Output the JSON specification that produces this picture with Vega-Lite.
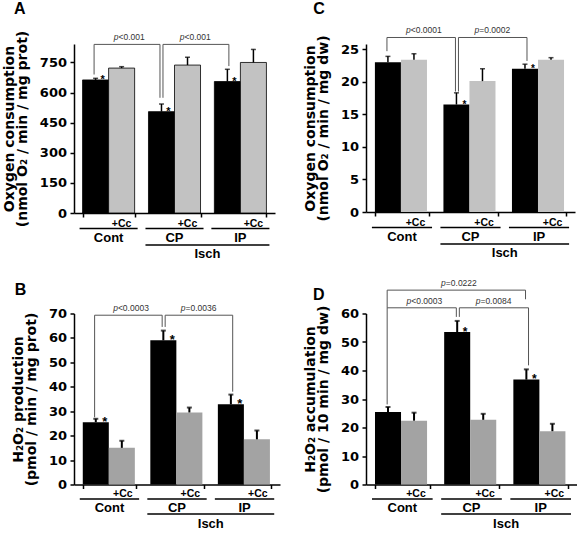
{
  "$schema": "https://vega.github.io/schema/vega-lite/v6.json",
  "autosize": {"type": "pad"},
  "padding": {"left": 2, "top": 0, "right": 0, "bottom": 0},
  "background": "white",
  "config": {
    "font": "Liberation Sans",
    "view": {"stroke": null},
    "axis": {"grid": false, "labelFont": "DejaVu Sans", "labelFontWeight": "bold", "labelFontSize": 13, "labelColor": "#000", "labelOverlap": false, "domainColor": "#000", "tickColor": "#000", "domainWidth": 1.5, "tickWidth": 1.5, "tickSize": 4, "labelPadding": 3.5, "titleFont": "DejaVu Sans", "titleFontWeight": "bold", "titleFontSize": 14, "titleColor": "#000", "titlePadding": 10, "titleLineHeight": 13}
  },
  "datasets": {
    "bars": [
      {"panel": "A", "group": "Cont", "treat": "ctrl", "value": 663, "hi": 671, "star": "*"},
      {"panel": "A", "group": "Cont", "treat": "+Cc", "value": 722, "hi": 729, "star": ""},
      {"panel": "A", "group": "CP", "treat": "ctrl", "value": 505, "hi": 543, "star": "*"},
      {"panel": "A", "group": "CP", "treat": "+Cc", "value": 737, "hi": 776, "star": ""},
      {"panel": "A", "group": "IP", "treat": "ctrl", "value": 655, "hi": 716, "star": "*"},
      {"panel": "A", "group": "IP", "treat": "+Cc", "value": 750, "hi": 815, "star": ""},
      {"panel": "C", "group": "Cont", "treat": "ctrl", "value": 23.0, "hi": 23.9, "star": ""},
      {"panel": "C", "group": "Cont", "treat": "+Cc", "value": 23.4, "hi": 24.3, "star": ""},
      {"panel": "C", "group": "CP", "treat": "ctrl", "value": 16.5, "hi": 18.3, "star": "*"},
      {"panel": "C", "group": "CP", "treat": "+Cc", "value": 20.1, "hi": 22.0, "star": ""},
      {"panel": "C", "group": "IP", "treat": "ctrl", "value": 22.0, "hi": 22.7, "star": "*"},
      {"panel": "C", "group": "IP", "treat": "+Cc", "value": 23.4, "hi": 23.7, "star": ""},
      {"panel": "B", "group": "Cont", "treat": "ctrl", "value": 25.5, "hi": 26.9, "star": "*"},
      {"panel": "B", "group": "Cont", "treat": "+Cc", "value": 15.0, "hi": 17.9, "star": ""},
      {"panel": "B", "group": "CP", "treat": "ctrl", "value": 59.0, "hi": 63.0, "star": "*"},
      {"panel": "B", "group": "CP", "treat": "+Cc", "value": 29.5, "hi": 31.5, "star": ""},
      {"panel": "B", "group": "IP", "treat": "ctrl", "value": 32.8, "hi": 36.8, "star": "*"},
      {"panel": "B", "group": "IP", "treat": "+Cc", "value": 18.5, "hi": 22.1, "star": ""},
      {"panel": "D", "group": "Cont", "treat": "ctrl", "value": 25.4, "hi": 27.2, "star": ""},
      {"panel": "D", "group": "Cont", "treat": "+Cc", "value": 22.4, "hi": 25.2, "star": ""},
      {"panel": "D", "group": "CP", "treat": "ctrl", "value": 53.5, "hi": 57.4, "star": "*"},
      {"panel": "D", "group": "CP", "treat": "+Cc", "value": 22.7, "hi": 24.8, "star": ""},
      {"panel": "D", "group": "IP", "treat": "ctrl", "value": 36.8, "hi": 40.4, "star": "*"},
      {"panel": "D", "group": "IP", "treat": "+Cc", "value": 18.7, "hi": 21.3, "star": ""}
    ],
    "brk": [
      {"panel": "A", "side": "L", "group": "Cont", "y": 690, "k": 1},
      {"panel": "A", "side": "L", "group": "Cont", "y": 840, "k": 2},
      {"panel": "A", "side": "L", "group": "CP", "y": 840, "k": 3},
      {"panel": "A", "side": "L", "group": "CP", "y": 574, "k": 4},
      {"panel": "A", "side": "R", "group": "CP", "y": 574, "k": 1},
      {"panel": "A", "side": "R", "group": "CP", "y": 840, "k": 2},
      {"panel": "A", "side": "R", "group": "IP", "y": 840, "k": 3},
      {"panel": "A", "side": "R", "group": "IP", "y": 732, "k": 4},
      {"panel": "C", "side": "L", "group": "Cont", "y": 24.7, "k": 1},
      {"panel": "C", "side": "L", "group": "Cont", "y": 26.8, "k": 2},
      {"panel": "C", "side": "L", "group": "CP", "y": 26.8, "k": 3},
      {"panel": "C", "side": "L", "group": "CP", "y": 18.5, "k": 4},
      {"panel": "C", "side": "R", "group": "CP", "y": 18.5, "k": 1},
      {"panel": "C", "side": "R", "group": "CP", "y": 26.8, "k": 2},
      {"panel": "C", "side": "R", "group": "IP", "y": 26.8, "k": 3},
      {"panel": "C", "side": "R", "group": "IP", "y": 23.2, "k": 4},
      {"panel": "B", "side": "L", "group": "Cont", "y": 27.5, "k": 1},
      {"panel": "B", "side": "L", "group": "Cont", "y": 69.3, "k": 2},
      {"panel": "B", "side": "L", "group": "CP", "y": 69.3, "k": 3},
      {"panel": "B", "side": "L", "group": "CP", "y": 64.5, "k": 4},
      {"panel": "B", "side": "R", "group": "CP", "y": 64.5, "k": 1},
      {"panel": "B", "side": "R", "group": "CP", "y": 69.3, "k": 2},
      {"panel": "B", "side": "R", "group": "IP", "y": 69.3, "k": 3},
      {"panel": "B", "side": "R", "group": "IP", "y": 38.0, "k": 4},
      {"panel": "D", "side": "L", "group": "Cont", "y": 28.1, "k": 1},
      {"panel": "D", "side": "L", "group": "Cont", "y": 62.0, "k": 2},
      {"panel": "D", "side": "L", "group": "CP", "y": 62.0, "k": 3},
      {"panel": "D", "side": "L", "group": "CP", "y": 58.8, "k": 4},
      {"panel": "D", "side": "R", "group": "CP", "y": 58.8, "k": 1},
      {"panel": "D", "side": "R", "group": "CP", "y": 62.0, "k": 2},
      {"panel": "D", "side": "R", "group": "IP", "y": 62.0, "k": 3},
      {"panel": "D", "side": "R", "group": "IP", "y": 41.8, "k": 4},
      {"panel": "D", "side": "O", "group": "Cont", "y": 62.0, "k": 1},
      {"panel": "D", "side": "O", "group": "Cont", "y": 68.2, "k": 2},
      {"panel": "D", "side": "O", "group": "IP", "y": 68.2, "k": 3},
      {"panel": "D", "side": "O", "group": "IP", "y": 65.0, "k": 4}
    ],
    "pv": [
      {"panel": "A", "side": "L", "group": "Cont", "y": 840, "rest": "<0.001"},
      {"panel": "A", "side": "R", "group": "CP", "y": 840, "rest": "<0.001"},
      {"panel": "C", "side": "L", "group": "Cont", "y": 26.8, "rest": "<0.0001"},
      {"panel": "C", "side": "R", "group": "CP", "y": 26.8, "rest": "=0.0002"},
      {"panel": "B", "side": "L", "group": "Cont", "y": 69.3, "rest": "<0.0003"},
      {"panel": "B", "side": "R", "group": "CP", "y": 69.3, "rest": "=0.0036"},
      {"panel": "D", "side": "L", "group": "Cont", "y": 62.0, "rest": "<0.0003"},
      {"panel": "D", "side": "R", "group": "CP", "y": 62.0, "rest": "=0.0084"},
      {"panel": "D", "side": "O", "group": "CP", "y": 68.2, "rest": "=0.0222"}
    ],
    "grp": [{"group": "Cont"}, {"group": "CP"}, {"group": "IP"}],
    "isch": [{"group": "CP", "group2": "IP", "label": "Isch"}]
  },
  "columns": 2,
  "spacing": {"row": 100.5, "column": 86},
  "bounds": "flush",
  "align": "each",
  "concat": [
    {
      "width": 201, "height": 169,
      "layer": [
        {"data": {"name": "bars"}, "transform": [{"filter": "datum.panel === 'A'"}],
         "mark": {"type": "bar", "stroke": "#000", "strokeWidth": 0.8},
         "encoding": {
           "x": {"field": "group", "type": "nominal", "scale": {"domain": ["Cont", "CP", "IP"], "paddingInner": 0.21, "paddingOuter": 0.13}, "axis": {"labels": false, "title": null, "tickBand": "extent"}},
           "xOffset": {"field": "treat", "type": "nominal", "scale": {"domain": ["ctrl", "+Cc"], "paddingInner": 0, "paddingOuter": 0}},
           "y": {"field": "value", "type": "quantitative", "scale": {"domain": [0, 842], "nice": false}, "axis": {"values": [0, 150, 300, 450, 600, 750], "tickCount": 20, "labelOverlap": false, "labelFlush": false, "title": ["Oxygen consumption", "(nmol O₂ / min / mg prot)"]}},
           "color": {"condition": {"test": "datum.treat === 'ctrl'", "value": "#000"}, "value": "#C2C2C2"}
         }},
        {"data": {"name": "bars"}, "transform": [{"filter": "datum.panel === 'A'"}],
         "mark": {"type": "rule", "color": "#000", "strokeWidth": 1.5},
         "encoding": {"x": {"field": "group", "type": "nominal"}, "xOffset": {"field": "treat", "type": "nominal"}, "y": {"field": "value", "type": "quantitative"}, "y2": {"field": "hi"}}},
        {"data": {"name": "bars"}, "transform": [{"filter": "datum.panel === 'A'"}],
         "mark": {"type": "tick", "color": "#000", "thickness": 1.5, "size": 5},
         "encoding": {"x": {"field": "group", "type": "nominal"}, "xOffset": {"field": "treat", "type": "nominal"}, "y": {"field": "hi", "type": "quantitative"}}},
        {"data": {"name": "bars"}, "transform": [{"filter": "datum.panel === 'A'"}],
         "mark": {"type": "text", "fontSize": 11, "fontWeight": "bold", "dx": 7, "dy": 3, "baseline": "alphabetic", "color": "#000"},
         "encoding": {"x": {"field": "group", "type": "nominal"}, "xOffset": {"field": "treat", "type": "nominal"}, "y": {"field": "value", "type": "quantitative"}, "text": {"field": "star"}}},
        {"data": {"name": "brk"}, "transform": [{"filter": "datum.panel === 'A' && datum.side === 'L'"}],
         "mark": {"type": "line", "color": "#555", "strokeWidth": 1, "xOffset": -1.5},
         "encoding": {"x": {"field": "group", "type": "nominal", "bandPosition": 0.25}, "y": {"field": "y", "type": "quantitative"}, "order": {"field": "k"}}},
        {"data": {"name": "brk"}, "transform": [{"filter": "datum.panel === 'A' && datum.side === 'R'"}],
         "mark": {"type": "line", "color": "#555", "strokeWidth": 1, "xOffset": 1.5},
         "encoding": {"x": {"field": "group", "type": "nominal", "bandPosition": 0.25}, "y": {"field": "y", "type": "quantitative"}, "order": {"field": "k"}}},
        {"data": {"name": "pv"}, "transform": [{"filter": "datum.panel === 'A'"}],
         "mark": {"type": "text", "fontSize": 8.5, "fontStyle": "italic", "align": "right", "baseline": "alphabetic", "dx": -10, "dy": -4, "color": "#333"},
         "encoding": {"x": {"field": "group", "type": "nominal", "bandPosition": 0.883}, "y": {"field": "y", "type": "quantitative"}, "text": {"value": "p"}}},
        {"data": {"name": "pv"}, "transform": [{"filter": "datum.panel === 'A'"}],
         "mark": {"type": "text", "fontSize": 8.5, "align": "left", "baseline": "alphabetic", "dx": -10, "dy": -4, "color": "#333"},
         "encoding": {"x": {"field": "group", "type": "nominal", "bandPosition": 0.883}, "y": {"field": "y", "type": "quantitative"}, "text": {"field": "rest"}}},
        {"data": {"name": "grp"},
         "mark": {"type": "rule", "color": "#000", "strokeWidth": 1.5, "yOffset": 15.5, "xOffset": -3, "x2Offset": 3},
         "encoding": {"x": {"field": "group", "type": "nominal", "bandPosition": 0}, "x2": {"field": "group", "bandPosition": 1}, "y": {"datum": 0, "type": "quantitative"}}},
        {"data": {"name": "grp"},
         "mark": {"type": "text", "fontSize": 10.5, "fontWeight": "bold", "baseline": "alphabetic", "dy": 14, "color": "#000"},
         "encoding": {"x": {"field": "group", "type": "nominal", "bandPosition": 0.75}, "y": {"datum": 0, "type": "quantitative"}, "text": {"value": "+Cc"}}},
        {"data": {"name": "grp"},
         "mark": {"type": "text", "fontSize": 13, "fontWeight": "bold", "baseline": "alphabetic", "dy": 29, "color": "#000"},
         "encoding": {"x": {"field": "group", "type": "nominal", "bandPosition": 0.5}, "y": {"datum": 0, "type": "quantitative"}, "text": {"field": "group"}}},
        {"data": {"name": "isch"},
         "mark": {"type": "rule", "color": "#000", "strokeWidth": 1.5, "yOffset": 32, "xOffset": -3, "x2Offset": 3},
         "encoding": {"x": {"field": "group", "type": "nominal", "bandPosition": 0}, "x2": {"field": "group2", "bandPosition": 1}, "y": {"datum": 0, "type": "quantitative"}}},
        {"data": {"name": "isch"},
         "mark": {"type": "text", "fontSize": 13, "fontWeight": "bold", "baseline": "alphabetic", "dy": 45, "color": "#000"},
         "encoding": {"x": {"field": "group", "type": "nominal", "bandPosition": 1.133}, "y": {"datum": 0, "type": "quantitative"}, "text": {"field": "label"}}},
        {"data": {"values": [{"letter": "A", "group": "Cont"}]},
         "mark": {"type": "text", "fontSize": 16, "fontWeight": "bold", "align": "left", "baseline": "alphabetic", "dx": -68.6, "dy": -30.5, "color": "#000"},
         "encoding": {"x": {"field": "group", "type": "nominal", "bandPosition": 0}, "y": {"datum": 842, "type": "quantitative"}, "text": {"field": "letter"}}}
      ]
    },
    {
      "width": 209, "height": 168,
      "layer": [
        {"data": {"name": "bars"}, "transform": [{"filter": "datum.panel === 'C'"}],
         "mark": {"type": "bar"},
         "encoding": {
           "x": {"field": "group", "type": "nominal", "scale": {"domain": ["Cont", "CP", "IP"], "paddingInner": 0.21, "paddingOuter": 0.13}, "axis": {"labels": false, "title": null, "tickBand": "extent"}},
           "xOffset": {"field": "treat", "type": "nominal", "scale": {"domain": ["ctrl", "+Cc"], "paddingInner": 0, "paddingOuter": 0}},
           "y": {"field": "value", "type": "quantitative", "scale": {"domain": [0, 25.8], "nice": false}, "axis": {"values": [0, 5, 10, 15, 20, 25], "tickCount": 20, "labelOverlap": false, "labelFlush": false, "title": ["Oxygen consumption", "(nmol O₂ / min / mg dw)"]}},
           "color": {"condition": {"test": "datum.treat === 'ctrl'", "value": "#000"}, "value": "#C2C2C2"}
         }},
        {"data": {"name": "bars"}, "transform": [{"filter": "datum.panel === 'C'"}],
         "mark": {"type": "rule", "color": "#000", "strokeWidth": 1.5},
         "encoding": {"x": {"field": "group", "type": "nominal"}, "xOffset": {"field": "treat", "type": "nominal"}, "y": {"field": "value", "type": "quantitative"}, "y2": {"field": "hi"}}},
        {"data": {"name": "bars"}, "transform": [{"filter": "datum.panel === 'C'"}],
         "mark": {"type": "tick", "color": "#000", "thickness": 1.5, "size": 5},
         "encoding": {"x": {"field": "group", "type": "nominal"}, "xOffset": {"field": "treat", "type": "nominal"}, "y": {"field": "hi", "type": "quantitative"}}},
        {"data": {"name": "bars"}, "transform": [{"filter": "datum.panel === 'C'"}],
         "mark": {"type": "text", "fontSize": 10, "fontWeight": "bold", "dx": 8, "dy": 3, "baseline": "alphabetic", "color": "#000"},
         "encoding": {"x": {"field": "group", "type": "nominal"}, "xOffset": {"field": "treat", "type": "nominal"}, "y": {"field": "value", "type": "quantitative"}, "text": {"field": "star"}}},
        {"data": {"name": "brk"}, "transform": [{"filter": "datum.panel === 'C' && datum.side === 'L'"}],
         "mark": {"type": "line", "color": "#555", "strokeWidth": 1, "xOffset": -1.5},
         "encoding": {"x": {"field": "group", "type": "nominal", "bandPosition": 0.25}, "y": {"field": "y", "type": "quantitative"}, "order": {"field": "k"}}},
        {"data": {"name": "brk"}, "transform": [{"filter": "datum.panel === 'C' && datum.side === 'R'"}],
         "mark": {"type": "line", "color": "#555", "strokeWidth": 1, "xOffset": 1.5},
         "encoding": {"x": {"field": "group", "type": "nominal", "bandPosition": 0.25}, "y": {"field": "y", "type": "quantitative"}, "order": {"field": "k"}}},
        {"data": {"name": "pv"}, "transform": [{"filter": "datum.panel === 'C'"}],
         "mark": {"type": "text", "fontSize": 8.5, "fontStyle": "italic", "align": "right", "baseline": "alphabetic", "dx": -12, "dy": -4, "color": "#333"},
         "encoding": {"x": {"field": "group", "type": "nominal", "bandPosition": 0.883}, "y": {"field": "y", "type": "quantitative"}, "text": {"value": "p"}}},
        {"data": {"name": "pv"}, "transform": [{"filter": "datum.panel === 'C'"}],
         "mark": {"type": "text", "fontSize": 8.5, "align": "left", "baseline": "alphabetic", "dx": -12, "dy": -4, "color": "#333"},
         "encoding": {"x": {"field": "group", "type": "nominal", "bandPosition": 0.883}, "y": {"field": "y", "type": "quantitative"}, "text": {"field": "rest"}}},
        {"data": {"name": "grp"},
         "mark": {"type": "rule", "color": "#000", "strokeWidth": 1.5, "yOffset": 15.5, "xOffset": -3, "x2Offset": 3},
         "encoding": {"x": {"field": "group", "type": "nominal", "bandPosition": 0}, "x2": {"field": "group", "bandPosition": 1}, "y": {"datum": 0, "type": "quantitative"}}},
        {"data": {"name": "grp"},
         "mark": {"type": "text", "fontSize": 10.5, "fontWeight": "bold", "baseline": "alphabetic", "dy": 14, "color": "#000"},
         "encoding": {"x": {"field": "group", "type": "nominal", "bandPosition": 0.75}, "y": {"datum": 0, "type": "quantitative"}, "text": {"value": "+Cc"}}},
        {"data": {"name": "grp"},
         "mark": {"type": "text", "fontSize": 13, "fontWeight": "bold", "baseline": "alphabetic", "dy": 29, "color": "#000"},
         "encoding": {"x": {"field": "group", "type": "nominal", "bandPosition": 0.5}, "y": {"datum": 0, "type": "quantitative"}, "text": {"field": "group"}}},
        {"data": {"name": "isch"},
         "mark": {"type": "rule", "color": "#000", "strokeWidth": 1.5, "yOffset": 32, "xOffset": -3, "x2Offset": 3},
         "encoding": {"x": {"field": "group", "type": "nominal", "bandPosition": 0}, "x2": {"field": "group2", "bandPosition": 1}, "y": {"datum": 0, "type": "quantitative"}}},
        {"data": {"name": "isch"},
         "mark": {"type": "text", "fontSize": 13, "fontWeight": "bold", "baseline": "alphabetic", "dy": 45, "color": "#000"},
         "encoding": {"x": {"field": "group", "type": "nominal", "bandPosition": 1.133}, "y": {"datum": 0, "type": "quantitative"}, "text": {"field": "label"}}},
        {"data": {"values": [{"letter": "C", "group": "Cont"}]},
         "mark": {"type": "text", "fontSize": 16, "fontWeight": "bold", "align": "left", "baseline": "alphabetic", "dx": -61.6, "dy": -30.5, "color": "#000"},
         "encoding": {"x": {"field": "group", "type": "nominal", "bandPosition": 0}, "y": {"datum": 25.8, "type": "quantitative"}, "text": {"field": "letter"}}}
      ]
    },
    {
      "width": 206, "height": 171,
      "layer": [
        {"data": {"name": "bars"}, "transform": [{"filter": "datum.panel === 'B'"}],
         "mark": {"type": "bar"},
         "encoding": {
           "x": {"field": "group", "type": "nominal", "scale": {"domain": ["Cont", "CP", "IP"], "paddingInner": 0.21, "paddingOuter": 0.13}, "axis": {"labels": false, "title": null, "tickBand": "extent"}},
           "xOffset": {"field": "treat", "type": "nominal", "scale": {"domain": ["ctrl", "+Cc"], "paddingInner": 0, "paddingOuter": 0}},
           "y": {"field": "value", "type": "quantitative", "scale": {"domain": [0, 70], "nice": false}, "axis": {"values": [0, 10, 20, 30, 40, 50, 60, 70], "tickCount": 20, "labelOverlap": false, "labelFlush": false, "title": ["H₂O₂ production", "(pmol / min / mg prot)"]}},
           "color": {"condition": {"test": "datum.treat === 'ctrl'", "value": "#000"}, "value": "#A3A3A3"}
         }},
        {"data": {"name": "bars"}, "transform": [{"filter": "datum.panel === 'B'"}],
         "mark": {"type": "rule", "color": "#000", "strokeWidth": 2},
         "encoding": {"x": {"field": "group", "type": "nominal"}, "xOffset": {"field": "treat", "type": "nominal"}, "y": {"field": "value", "type": "quantitative"}, "y2": {"field": "hi"}}},
        {"data": {"name": "bars"}, "transform": [{"filter": "datum.panel === 'B'"}],
         "mark": {"type": "tick", "color": "#000", "thickness": 2, "size": 5},
         "encoding": {"x": {"field": "group", "type": "nominal"}, "xOffset": {"field": "treat", "type": "nominal"}, "y": {"field": "hi", "type": "quantitative"}}},
        {"data": {"name": "bars"}, "transform": [{"filter": "datum.panel === 'B'"}],
         "mark": {"type": "text", "fontSize": 13, "fontWeight": "bold", "dx": 9, "dy": 3.5, "baseline": "alphabetic", "color": "#000"},
         "encoding": {"x": {"field": "group", "type": "nominal"}, "xOffset": {"field": "treat", "type": "nominal"}, "y": {"field": "value", "type": "quantitative"}, "text": {"field": "star"}}},
        {"data": {"name": "brk"}, "transform": [{"filter": "datum.panel === 'B' && datum.side === 'L'"}],
         "mark": {"type": "line", "color": "#555", "strokeWidth": 1, "xOffset": -1.5},
         "encoding": {"x": {"field": "group", "type": "nominal", "bandPosition": 0.25}, "y": {"field": "y", "type": "quantitative"}, "order": {"field": "k"}}},
        {"data": {"name": "brk"}, "transform": [{"filter": "datum.panel === 'B' && datum.side === 'R'"}],
         "mark": {"type": "line", "color": "#555", "strokeWidth": 1, "xOffset": 1.5},
         "encoding": {"x": {"field": "group", "type": "nominal", "bandPosition": 0.25}, "y": {"field": "y", "type": "quantitative"}, "order": {"field": "k"}}},
        {"data": {"name": "pv"}, "transform": [{"filter": "datum.panel === 'B'"}],
         "mark": {"type": "text", "fontSize": 8.5, "fontStyle": "italic", "align": "right", "baseline": "alphabetic", "dx": -12, "dy": -4, "color": "#333"},
         "encoding": {"x": {"field": "group", "type": "nominal", "bandPosition": 0.883}, "y": {"field": "y", "type": "quantitative"}, "text": {"value": "p"}}},
        {"data": {"name": "pv"}, "transform": [{"filter": "datum.panel === 'B'"}],
         "mark": {"type": "text", "fontSize": 8.5, "align": "left", "baseline": "alphabetic", "dx": -12, "dy": -4, "color": "#333"},
         "encoding": {"x": {"field": "group", "type": "nominal", "bandPosition": 0.883}, "y": {"field": "y", "type": "quantitative"}, "text": {"field": "rest"}}},
        {"data": {"name": "grp"},
         "mark": {"type": "rule", "color": "#000", "strokeWidth": 1.5, "yOffset": 14.5, "xOffset": -3, "x2Offset": 3},
         "encoding": {"x": {"field": "group", "type": "nominal", "bandPosition": 0}, "x2": {"field": "group", "bandPosition": 1}, "y": {"datum": 0, "type": "quantitative"}}},
        {"data": {"name": "grp"},
         "mark": {"type": "text", "fontSize": 10.5, "fontWeight": "bold", "baseline": "alphabetic", "dy": 12.5, "color": "#000"},
         "encoding": {"x": {"field": "group", "type": "nominal", "bandPosition": 0.75}, "y": {"datum": 0, "type": "quantitative"}, "text": {"value": "+Cc"}}},
        {"data": {"name": "grp"},
         "mark": {"type": "text", "fontSize": 13, "fontWeight": "bold", "baseline": "alphabetic", "dy": 27, "color": "#000"},
         "encoding": {"x": {"field": "group", "type": "nominal", "bandPosition": 0.5}, "y": {"datum": 0, "type": "quantitative"}, "text": {"field": "group"}}},
        {"data": {"name": "isch"},
         "mark": {"type": "rule", "color": "#000", "strokeWidth": 1.5, "yOffset": 29.5, "xOffset": -3, "x2Offset": 3},
         "encoding": {"x": {"field": "group", "type": "nominal", "bandPosition": 0}, "x2": {"field": "group2", "bandPosition": 1}, "y": {"datum": 0, "type": "quantitative"}}},
        {"data": {"name": "isch"},
         "mark": {"type": "text", "fontSize": 13, "fontWeight": "bold", "baseline": "alphabetic", "dy": 43, "color": "#000"},
         "encoding": {"x": {"field": "group", "type": "nominal", "bandPosition": 1.133}, "y": {"datum": 0, "type": "quantitative"}, "text": {"field": "label"}}},
        {"data": {"values": [{"letter": "B", "group": "Cont"}]},
         "mark": {"type": "text", "fontSize": 16, "fontWeight": "bold", "align": "left", "baseline": "alphabetic", "dx": -68, "dy": -18.5, "color": "#000"},
         "encoding": {"x": {"field": "group", "type": "nominal", "bandPosition": 0}, "y": {"datum": 70, "type": "quantitative"}, "text": {"field": "letter"}}}
      ]
    },
    {
      "width": 211, "height": 171,
      "layer": [
        {"data": {"name": "bars"}, "transform": [{"filter": "datum.panel === 'D'"}],
         "mark": {"type": "bar"},
         "encoding": {
           "x": {"field": "group", "type": "nominal", "scale": {"domain": ["Cont", "CP", "IP"], "paddingInner": 0.21, "paddingOuter": 0.13}, "axis": {"labels": false, "title": null, "tickBand": "extent"}},
           "xOffset": {"field": "treat", "type": "nominal", "scale": {"domain": ["ctrl", "+Cc"], "paddingInner": 0, "paddingOuter": 0}},
           "y": {"field": "value", "type": "quantitative", "scale": {"domain": [0, 60], "nice": false}, "axis": {"values": [0, 10, 20, 30, 40, 50, 60], "tickCount": 20, "labelOverlap": false, "labelFlush": false, "title": ["H₂O₂ accumulation", "(pmol / 10 min / mg dw)"]}},
           "color": {"condition": {"test": "datum.treat === 'ctrl'", "value": "#000"}, "value": "#A3A3A3"}
         }},
        {"data": {"name": "bars"}, "transform": [{"filter": "datum.panel === 'D'"}],
         "mark": {"type": "rule", "color": "#000", "strokeWidth": 2},
         "encoding": {"x": {"field": "group", "type": "nominal"}, "xOffset": {"field": "treat", "type": "nominal"}, "y": {"field": "value", "type": "quantitative"}, "y2": {"field": "hi"}}},
        {"data": {"name": "bars"}, "transform": [{"filter": "datum.panel === 'D'"}],
         "mark": {"type": "tick", "color": "#000", "thickness": 2, "size": 5},
         "encoding": {"x": {"field": "group", "type": "nominal"}, "xOffset": {"field": "treat", "type": "nominal"}, "y": {"field": "hi", "type": "quantitative"}}},
        {"data": {"name": "bars"}, "transform": [{"filter": "datum.panel === 'D'"}],
         "mark": {"type": "text", "fontSize": 12, "fontWeight": "bold", "dx": 8, "dy": 3.5, "baseline": "alphabetic", "color": "#000"},
         "encoding": {"x": {"field": "group", "type": "nominal"}, "xOffset": {"field": "treat", "type": "nominal"}, "y": {"field": "value", "type": "quantitative"}, "text": {"field": "star"}}},
        {"data": {"name": "brk"}, "transform": [{"filter": "datum.panel === 'D' && datum.side === 'L'"}],
         "mark": {"type": "line", "color": "#555", "strokeWidth": 1, "xOffset": -1.5},
         "encoding": {"x": {"field": "group", "type": "nominal", "bandPosition": 0.25}, "y": {"field": "y", "type": "quantitative"}, "order": {"field": "k"}}},
        {"data": {"name": "brk"}, "transform": [{"filter": "datum.panel === 'D' && datum.side === 'R'"}],
         "mark": {"type": "line", "color": "#555", "strokeWidth": 1, "xOffset": 1.5},
         "encoding": {"x": {"field": "group", "type": "nominal", "bandPosition": 0.25}, "y": {"field": "y", "type": "quantitative"}, "order": {"field": "k"}}},
        {"data": {"name": "brk"}, "transform": [{"filter": "datum.panel === 'D' && datum.side === 'O'"}],
         "mark": {"type": "line", "color": "#555", "strokeWidth": 1, "xOffset": -1.5},
         "encoding": {"x": {"field": "group", "type": "nominal", "bandPosition": 0.25}, "y": {"field": "y", "type": "quantitative"}, "order": {"field": "k"}}},
        {"data": {"name": "pv"}, "transform": [{"filter": "datum.panel === 'D' && datum.side !== 'O'"}],
         "mark": {"type": "text", "fontSize": 8.5, "fontStyle": "italic", "align": "right", "baseline": "alphabetic", "dx": -12, "dy": -4, "color": "#333"},
         "encoding": {"x": {"field": "group", "type": "nominal", "bandPosition": 0.883}, "y": {"field": "y", "type": "quantitative"}, "text": {"value": "p"}}},
        {"data": {"name": "pv"}, "transform": [{"filter": "datum.panel === 'D' && datum.side !== 'O'"}],
         "mark": {"type": "text", "fontSize": 8.5, "align": "left", "baseline": "alphabetic", "dx": -12, "dy": -4, "color": "#333"},
         "encoding": {"x": {"field": "group", "type": "nominal", "bandPosition": 0.883}, "y": {"field": "y", "type": "quantitative"}, "text": {"field": "rest"}}},
        {"data": {"name": "pv"}, "transform": [{"filter": "datum.panel === 'D' && datum.side === 'O'"}],
         "mark": {"type": "text", "fontSize": 8.5, "fontStyle": "italic", "align": "right", "baseline": "alphabetic", "dx": -12, "dy": -4, "color": "#333"},
         "encoding": {"x": {"field": "group", "type": "nominal", "bandPosition": 0.25}, "y": {"field": "y", "type": "quantitative"}, "text": {"value": "p"}}},
        {"data": {"name": "pv"}, "transform": [{"filter": "datum.panel === 'D' && datum.side === 'O'"}],
         "mark": {"type": "text", "fontSize": 8.5, "align": "left", "baseline": "alphabetic", "dx": -12, "dy": -4, "color": "#333"},
         "encoding": {"x": {"field": "group", "type": "nominal", "bandPosition": 0.25}, "y": {"field": "y", "type": "quantitative"}, "text": {"field": "rest"}}},
        {"data": {"name": "grp"},
         "mark": {"type": "rule", "color": "#000", "strokeWidth": 1.5, "yOffset": 14.5, "xOffset": -3, "x2Offset": 3},
         "encoding": {"x": {"field": "group", "type": "nominal", "bandPosition": 0}, "x2": {"field": "group", "bandPosition": 1}, "y": {"datum": 0, "type": "quantitative"}}},
        {"data": {"name": "grp"},
         "mark": {"type": "text", "fontSize": 10.5, "fontWeight": "bold", "baseline": "alphabetic", "dy": 12.5, "color": "#000"},
         "encoding": {"x": {"field": "group", "type": "nominal", "bandPosition": 0.75}, "y": {"datum": 0, "type": "quantitative"}, "text": {"value": "+Cc"}}},
        {"data": {"name": "grp"},
         "mark": {"type": "text", "fontSize": 13, "fontWeight": "bold", "baseline": "alphabetic", "dy": 27, "color": "#000"},
         "encoding": {"x": {"field": "group", "type": "nominal", "bandPosition": 0.5}, "y": {"datum": 0, "type": "quantitative"}, "text": {"field": "group"}}},
        {"data": {"name": "isch"},
         "mark": {"type": "rule", "color": "#000", "strokeWidth": 1.5, "yOffset": 29.5, "xOffset": -3, "x2Offset": 3},
         "encoding": {"x": {"field": "group", "type": "nominal", "bandPosition": 0}, "x2": {"field": "group2", "bandPosition": 1}, "y": {"datum": 0, "type": "quantitative"}}},
        {"data": {"name": "isch"},
         "mark": {"type": "text", "fontSize": 13, "fontWeight": "bold", "baseline": "alphabetic", "dy": 43, "color": "#000"},
         "encoding": {"x": {"field": "group", "type": "nominal", "bandPosition": 1.133}, "y": {"datum": 0, "type": "quantitative"}, "text": {"field": "label"}}},
        {"data": {"values": [{"letter": "D", "group": "Cont"}]},
         "mark": {"type": "text", "fontSize": 16, "fontWeight": "bold", "align": "left", "baseline": "alphabetic", "dx": -62, "dy": -13.5, "color": "#000"},
         "encoding": {"x": {"field": "group", "type": "nominal", "bandPosition": 0}, "y": {"datum": 60, "type": "quantitative"}, "text": {"field": "letter"}}}
      ]
    }
  ]
}
